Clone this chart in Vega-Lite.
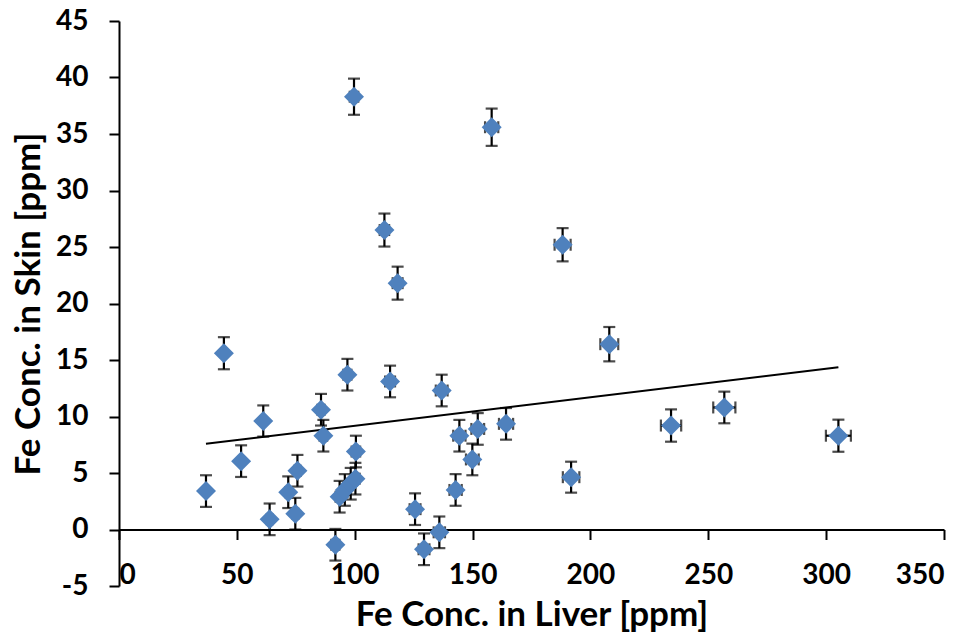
{
  "$schema": "https://vega.github.io/schema/vega-lite/v6.json",
  "width": 825,
  "height": 565,
  "autosize": {"type": "none"},
  "padding": {"left": 119, "top": 21, "right": 31, "bottom": 53},
  "background": "white",
  "config": {
    "view": {"stroke": null},
    "font": "Lato",
    "axis": {
      "grid": false,
      "labelFont": "Lato",
      "labelFontWeight": "bold",
      "labelFontSize": 28,
      "labelColor": "black",
      "domainColor": "black",
      "domainWidth": 2,
      "tickColor": "black",
      "tickWidth": 2,
      "tickSize": 10,
      "titleFont": "Lato",
      "titleFontWeight": "bold",
      "titleFontSize": 35,
      "titleColor": "black"
    }
  },
  "datasets": {
    "points": [
      {"x": 36.9, "y": 3.4, "yerr": 1.4, "xerr": 0.7},
      {"x": 44.5, "y": 15.6, "yerr": 1.42, "xerr": 0.8},
      {"x": 51.8, "y": 6.05, "yerr": 1.4, "xerr": 0.9},
      {"x": 61.2, "y": 9.6, "yerr": 1.38, "xerr": 1.1},
      {"x": 63.9, "y": 0.9, "yerr": 1.4, "xerr": 1.2},
      {"x": 71.8, "y": 3.3, "yerr": 1.4, "xerr": 1.3},
      {"x": 74.8, "y": 1.4, "yerr": 1.4, "xerr": 1.3},
      {"x": 75.7, "y": 5.2, "yerr": 1.4, "xerr": 1.4},
      {"x": 85.7, "y": 10.6, "yerr": 1.4, "xerr": 1.5},
      {"x": 86.7, "y": 8.3, "yerr": 1.4, "xerr": 1.6},
      {"x": 91.8, "y": -1.35, "yerr": 1.4, "xerr": 1.7},
      {"x": 93.6, "y": 2.9, "yerr": 1.4, "xerr": 1.7},
      {"x": 95.8, "y": 3.5, "yerr": 1.4, "xerr": 1.7},
      {"x": 98.3, "y": 4.05, "yerr": 1.4, "xerr": 1.8},
      {"x": 100.3, "y": 4.5, "yerr": 1.4, "xerr": 1.8},
      {"x": 96.9, "y": 13.7, "yerr": 1.4, "xerr": 1.7},
      {"x": 100.5, "y": 6.9, "yerr": 1.4, "xerr": 1.8},
      {"x": 99.7, "y": 38.3, "yerr": 1.6, "xerr": 1.8},
      {"x": 112.6, "y": 26.5, "yerr": 1.46, "xerr": 2.0},
      {"x": 115.0, "y": 13.1, "yerr": 1.4, "xerr": 2.1},
      {"x": 118.2, "y": 21.8, "yerr": 1.46, "xerr": 2.1},
      {"x": 125.6, "y": 1.8, "yerr": 1.4, "xerr": 2.3},
      {"x": 129.4, "y": -1.75, "yerr": 1.4, "xerr": 2.3},
      {"x": 135.9, "y": -0.25, "yerr": 1.4, "xerr": 2.4},
      {"x": 136.9, "y": 12.3, "yerr": 1.4, "xerr": 2.5},
      {"x": 142.8, "y": 3.5, "yerr": 1.4, "xerr": 2.6},
      {"x": 144.4, "y": 8.3, "yerr": 1.4, "xerr": 2.6},
      {"x": 149.9, "y": 6.2, "yerr": 1.4, "xerr": 2.7},
      {"x": 152.2, "y": 8.9, "yerr": 1.4, "xerr": 2.7},
      {"x": 158.1, "y": 35.6, "yerr": 1.65, "xerr": 2.8},
      {"x": 164.2, "y": 9.35, "yerr": 1.4, "xerr": 3.0},
      {"x": 188.2, "y": 25.2, "yerr": 1.47, "xerr": 3.4},
      {"x": 191.8, "y": 4.63, "yerr": 1.37, "xerr": 3.5},
      {"x": 208.0, "y": 16.4, "yerr": 1.52, "xerr": 3.8},
      {"x": 234.2, "y": 9.2, "yerr": 1.43, "xerr": 4.3},
      {"x": 256.8, "y": 10.8, "yerr": 1.4, "xerr": 4.7},
      {"x": 305.2, "y": 8.3, "yerr": 1.42, "xerr": 5.3}
    ],
    "trend": [
      {"x": 36.9, "y": 7.589},
      {"x": 305.2, "y": 14.35}
    ]
  },
  "data": {"name": "points"},
  "encoding": {
    "x": {
      "field": "x",
      "type": "quantitative",
      "scale": {"domain": [0, 350], "nice": false, "zero": false},
      "axis": {
        "values": [0, 50, 100, 150, 200, 250, 300, 350],
        "offset": -56.5,
        "labelPadding": 22,
        "title": "Fe Conc. in Liver [ppm]",
        "titleBaseline": "alphabetic",
        "titleY": 95.5,
        "titleX": 412.5,
        "titleAlign": "center"
      }
    },
    "y": {
      "field": "y",
      "type": "quantitative",
      "scale": {"domain": [-5, 45], "nice": false, "zero": false},
      "axis": {
        "values": [-5, 0, 5, 10, 15, 20, 25, 30, 35, 40, 45],
        "labelExpr": "replace(datum.label, '−', '-')",
        "labelPadding": 21,
        "title": "Fe Conc. in Skin [ppm]",
        "titleAngle": -90,
        "titleBaseline": "alphabetic",
        "titleAlign": "center",
        "titleX": -80,
        "titleY": 282.5
      }
    }
  },
  "layer": [
    {
      "mark": {"type": "errorbar", "ticks": {"thickness": 2.2}, "size": 12, "thickness": 2.2, "color": "black"},
      "encoding": {"yError": {"field": "yerr"}}
    },
    {
      "mark": {"type": "errorbar", "ticks": {"thickness": 2.2}, "size": 12, "thickness": 2.2, "color": "black"},
      "encoding": {"xError": {"field": "xerr"}}
    },
    {
      "data": {"name": "trend"},
      "mark": {"type": "line", "color": "black", "strokeWidth": 2},
      "encoding": {}
    },
    {
      "mark": {"type": "point", "shape": "diamond", "filled": true, "size": 400, "color": "#4F81BD", "opacity": 1, "strokeWidth": 0}
    },
    {
      "data": {"values": [{"note": "fit"}]},
      "mark": {
        "type": "text",
        "text": ["y = 0.0252x + 6.6589", "R² = 0.024"],
        "font": "Lato",
        "fontWeight": "bold",
        "fontSize": 24,
        "lineHeight": 32,
        "align": "center",
        "baseline": "alphabetic",
        "color": "black"
      },
      "encoding": {
        "x": {"datum": 269.8},
        "y": {"datum": 36.58}
      }
    }
  ]
}
